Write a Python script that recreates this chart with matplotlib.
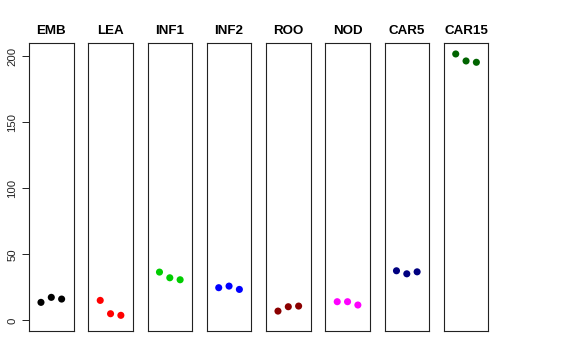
import matplotlib
matplotlib.use("Agg")
import matplotlib.pyplot as plt

categories = ["EMB", "LEA", "INF1", "INF2", "ROO", "NOD", "CAR5", "CAR15"]
colors = ["#000000", "#FF0000", "#00CD00", "#0000FF", "#8B0000", "#FF00FF", "#000080", "#006400"]
values = {
    "EMB": [13.6, 17.4, 16.1],
    "LEA": [15.1, 5.0, 3.8],
    "INF1": [36.5, 32.2, 30.7],
    "INF2": [24.7, 25.9, 23.4],
    "ROO": [7.0, 10.3, 10.8],
    "NOD": [14.1, 14.1, 11.6],
    "CAR5": [37.5, 35.2, 36.7],
    "CAR15": [201.5, 196.2, 195.2],
}
yticks = [0, 50, 100, 150, 200]

plt.rcParams['font.family'] = ['Liberation Sans', 'DejaVu Sans']

W, H = 576, 360
fig = plt.figure(figsize=(W / 100, H / 100), dpi=100)

ymax = max(max(v) for v in values.values())
pad = 0.04 * ymax
left0 = 29.0
pw = 44.6
step = 59.25
top = 43.3
bottom = 331.0

for i, cat in enumerate(categories):
    l = left0 + i * step
    ax = fig.add_axes([l / W, 1 - bottom / H, pw / W, (bottom - top) / H])
    xs = [1, 2, 3]
    ax.scatter(xs, values[cat], s=26, color=colors[i], edgecolors='none', zorder=3)
    ax.set_xlim(-0.16, 4.16)
    ax.set_ylim(-pad, ymax + pad)
    ax.set_xticks([])
    ax.set_title(cat, fontsize=9.6, fontweight='bold', pad=7)
    for s in ax.spines.values():
        s.set_linewidth(0.8)
        s.set_color('#222222')
    if i == 0:
        ax.set_yticks(yticks)
        ax.set_yticklabels([str(t) for t in yticks], rotation=90, va='center', fontsize=8.2, color='#222222')
        ax.tick_params(axis='y', length=5, width=0.7, pad=3.5, color='#222222')
    else:
        ax.set_yticks([])

fig.savefig("out.png", dpi=100)
